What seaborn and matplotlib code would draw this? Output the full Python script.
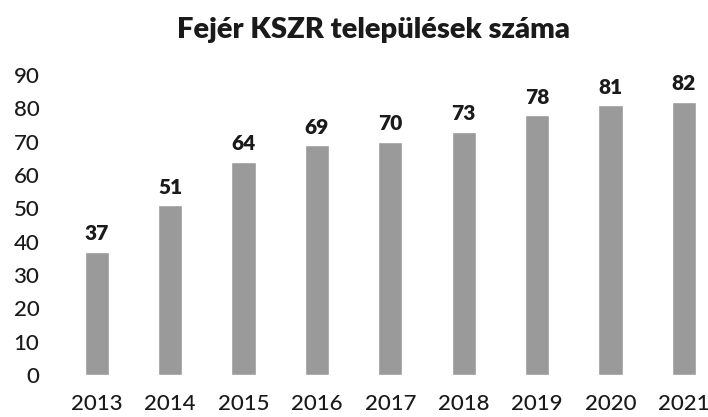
import matplotlib
matplotlib.use("Agg")
import matplotlib.pyplot as plt
import seaborn as sns
import pandas as pd

years = ["2013", "2014", "2015", "2016", "2017", "2018", "2019", "2020", "2021"]
counts = [37, 51, 64, 69, 70, 73, 78, 81, 82]
yticks = [0, 10, 20, 30, 40, 50, 60, 70, 80, 90]

sns.set_style("white")
plt.rcParams["font.family"] = ["Lato", "DejaVu Sans"]

df = pd.DataFrame({"Year": years, "Count": counts})

fig = plt.figure(figsize=(7.08, 4.17), dpi=100)
ax = fig.add_axes([0.085, 0.1007, 0.915, 0.7194])
sns.barplot(data=df, x="Year", y="Count", color="#9a9a9a", width=0.33,
            saturation=1, ax=ax)

for i, v in enumerate(counts):
    ax.annotate(str(v), (i, v), xytext=(0, 6), textcoords="offset points",
                ha="center", va="bottom", fontsize=15, fontweight="heavy",
                color="#1a1a1a", annotation_clip=False)

ax.set_xlim(-0.5, 8.33)
ax.set_ylim(0, 90)
ax.set_yticks(yticks)
ax.set_xlabel("")
ax.set_ylabel("")
ax.tick_params(axis="y", length=0, pad=15, labelsize=16, labelcolor="#1a1a1a")
ax.tick_params(axis="x", length=0, pad=14, labelsize=16, labelcolor="#1a1a1a")
for lab in ax.get_xticklabels() + ax.get_yticklabels():
    lab.set_fontweight("medium")
sns.despine(ax=ax, left=True, bottom=True)

fig.suptitle("Fejér KSZR települések száma", y=0.96, fontsize=21,
             fontweight="heavy", color="#1a1a1a", x=0.527)

fig.savefig("out.png", dpi=100)
